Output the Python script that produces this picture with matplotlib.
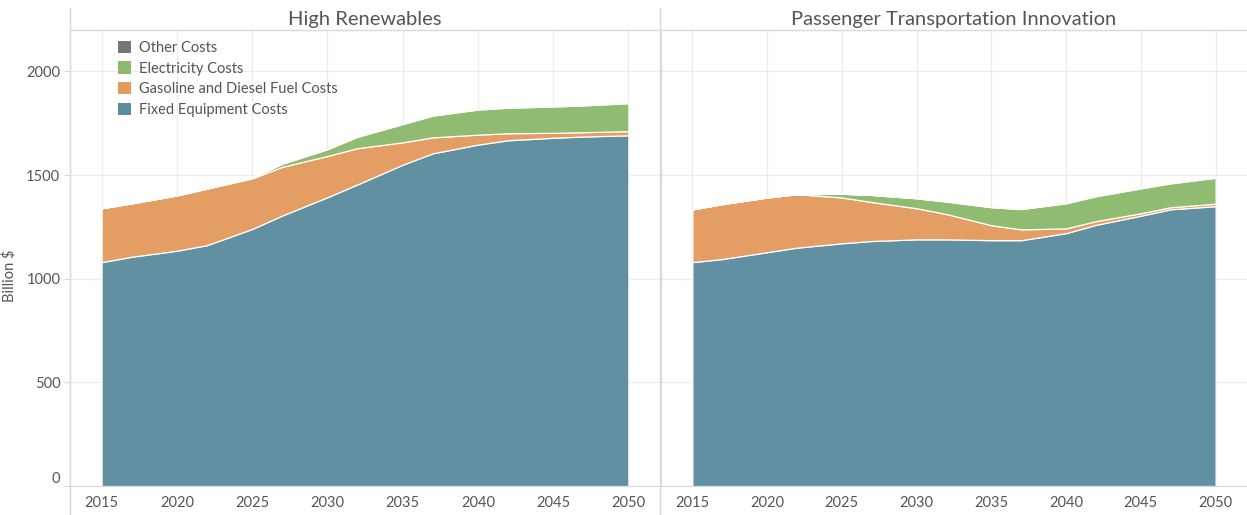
import numpy as np
import matplotlib.pyplot as plt
from matplotlib.patches import Patch

plt.rcParams['font.family'] = ['Lato', 'DejaVu Sans']

years = [2015, 2017, 2020, 2022, 2025, 2027, 2030, 2032, 2035, 2037, 2040, 2042, 2045, 2047, 2050]

# High Renewables (billion $)
hr_fixed = [1080, 1106, 1135, 1162, 1240, 1305, 1393, 1455, 1550, 1605, 1647, 1668, 1680, 1686, 1692]
hr_fuel = [260, 258, 267, 273, 244, 235, 199, 175, 108, 77, 48, 34, 24, 21, 20]
hr_elec = [0, 0, 0, 0, 3, 15, 33, 55, 88, 105, 121, 123, 127, 129, 135]
hr_other = [0, 0, 0, 0, 0, 1, 1, 2, 2, 2, 3, 3, 3, 3, 3]

# Passenger Transportation Innovation (billion $)
pti_fixed = [1080, 1095, 1128, 1150, 1171, 1182, 1190, 1190, 1186, 1186, 1220, 1260, 1304, 1335, 1350]
pti_fuel = [255, 265, 264, 258, 221, 188, 150, 122, 72, 52, 23, 18, 12, 10, 12]
pti_elec = [0, 0, 0, 0, 18, 34, 48, 60, 87, 98, 121, 120, 120, 115, 125]
pti_other = [0, 0, 0, 0, 0, 1, 1, 2, 2, 2, 3, 3, 3, 3, 3]

panel_titles = ['High Renewables', 'Passenger Transportation Innovation']
series_names = ['Fixed Equipment Costs', 'Gasoline and Diesel Fuel Costs',
                'Electricity Costs', 'Other Costs']
colors = ['#5b8c9e', '#e49b5f', '#8dba6d', '#767676']
x_ticks = [2015, 2020, 2025, 2030, 2035, 2040, 2045, 2050]
y_ticks = [0, 500, 1000, 1500, 2000]

txt = '#555555'
grid = '#ececec'
line = '#d9d9d9'

fig = plt.figure(figsize=(12.47, 5.15), dpi=100)
W, H = 1247.0, 515.0
bottom = 1 - 486 / H
top = 1 - 30 / H
ax1 = fig.add_axes([70 / W, bottom, 590 / W, top - bottom])
ax2 = fig.add_axes([661 / W, bottom, 586 / W, top - bottom])

data = [(hr_fixed, hr_fuel, hr_elec, hr_other),
        (pti_fixed, pti_fuel, pti_elec, pti_other)]

for ax, d, title in zip([ax1, ax2], data, panel_titles):
    ax.stackplot(years, *d, colors=colors, edgecolor='white', linewidth=0.9,
                 alpha=0.97, zorder=2)
    ax.set_xlim(2012.9, 2052.1)
    ax.set_ylim(0, 2200)
    ax.set_xticks(x_ticks)
    ax.set_yticks(y_ticks)
    ax.grid(True, color=grid, linewidth=0.9, zorder=0)
    ax.set_axisbelow(True)
    for s in ['top', 'right']:
        ax.spines[s].set_visible(False)
    ax.spines['left'].set_color(line)
    ax.spines['bottom'].set_color(line)
    ax.tick_params(axis='x', colors=line, labelcolor=txt, labelsize=10.5,
                   length=0, pad=7)
    ax.tick_params(axis='y', colors=line, labelcolor=txt, labelsize=10.5,
                   length=4, pad=3)
    # header band line and title
    ax.plot([0, 1], [1, 1], transform=ax.transAxes, color=line,
            linewidth=1, clip_on=False)
    ax.text(0.5, 1 + 11 / 456, title, transform=ax.transAxes, ha='center',
            va='center', fontsize=14.5, color=txt)

ax2.tick_params(axis='y', labelleft=False, length=0)
ax1.yaxis.get_major_ticks()[0].label1.set_va('bottom')
ax1.set_ylabel('Billion $', fontsize=10.5, color=txt)
ax1.yaxis.set_label_coords(-53 / 590, 0.46)

# vertical separators running through header and tick label area
for xp in [70, 660]:
    fig.add_artist(plt.Line2D([xp / W, xp / W], [0, 1 - 8 / H],
                              transform=fig.transFigure, color=line, linewidth=1))

handles = [Patch(facecolor=c, edgecolor='none') for c in colors[::-1]]
ax1.legend(handles, series_names[::-1], loc='upper left',
           bbox_to_anchor=(42 / 590, 1 - 5 / 456), frameon=False,
           fontsize=10.5, handlelength=0.9, handleheight=0.9,
           handletextpad=0.55, labelspacing=0.45, borderaxespad=0,
           labelcolor=txt)

fig.savefig('out.png', dpi=100)
